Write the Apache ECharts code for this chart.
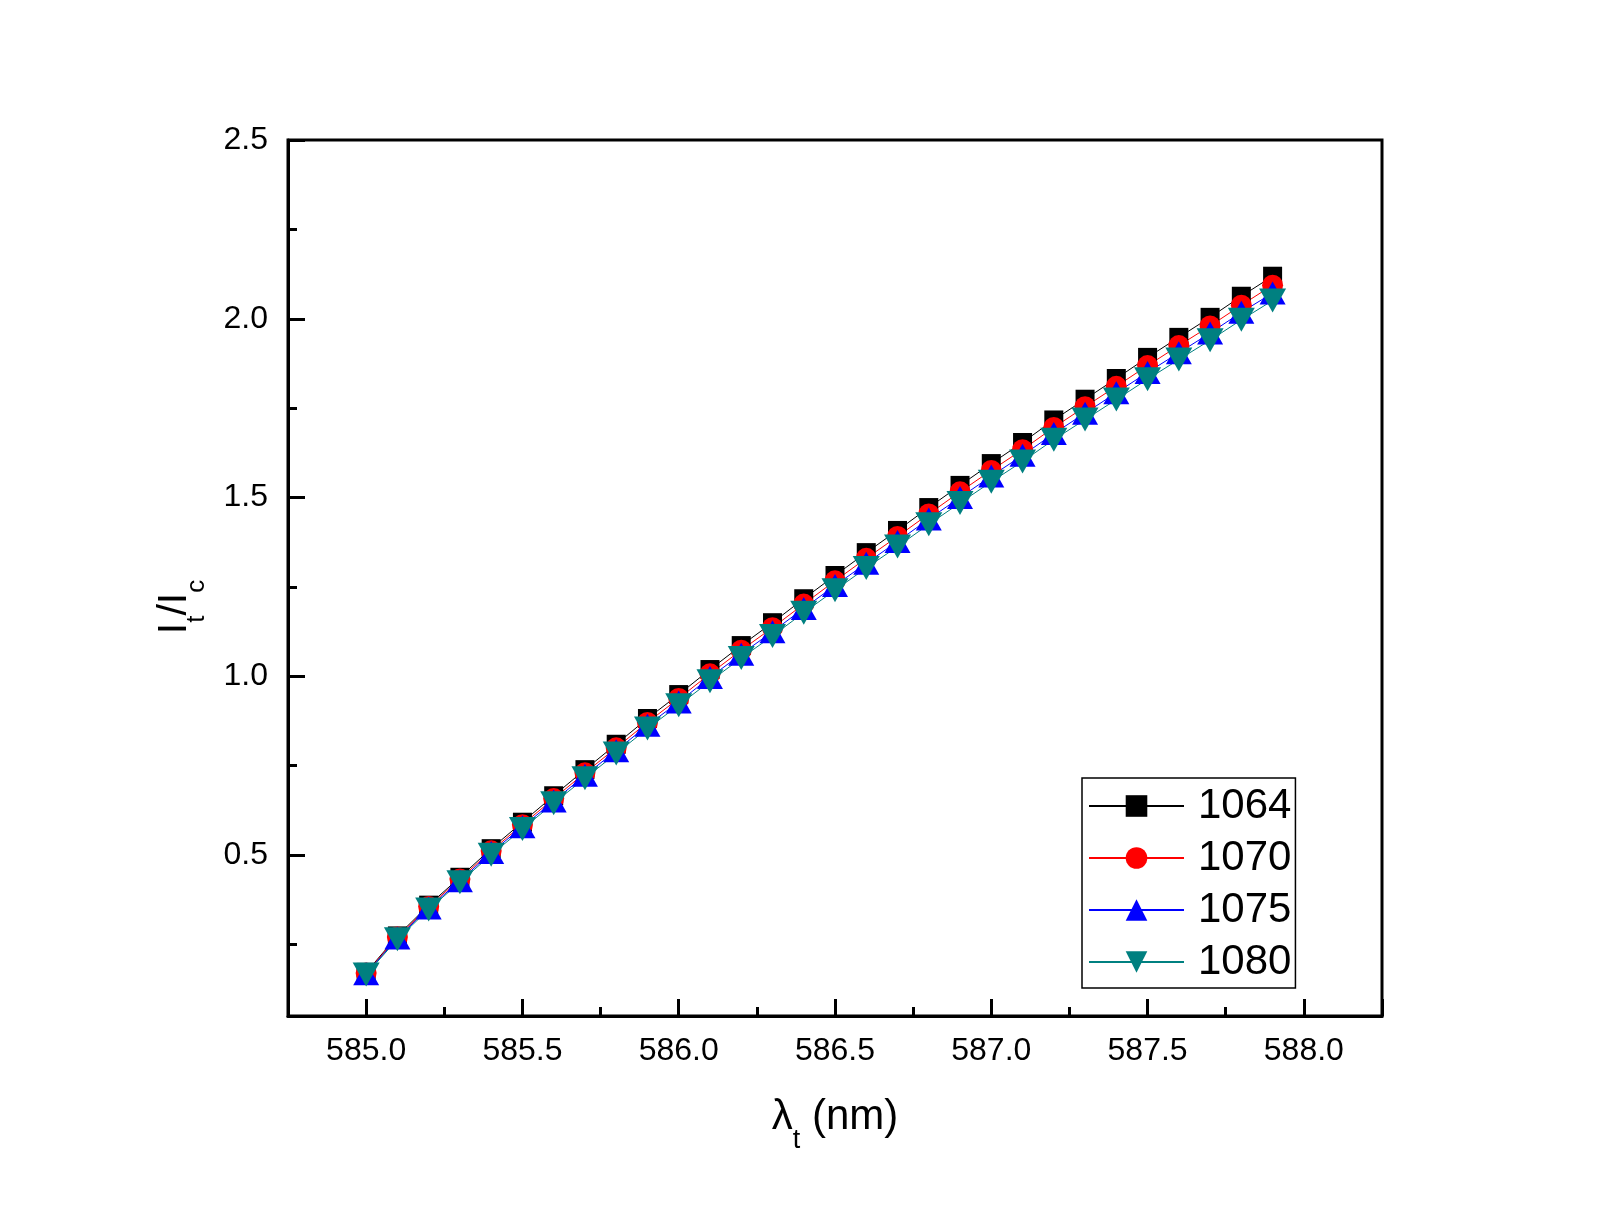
<!DOCTYPE html>
<html>
<head>
<meta charset="utf-8">
<title>It/Ic vs wavelength</title>
<script src="https://cdn.jsdelivr.net/npm/echarts@6.0.0/dist/echarts.min.js"></script>
<style>
    html, body { margin: 0; padding: 0; background: #fff; }
    #main { width: 1605px; height: 1218px; }
</style>
</head>
<body>
<div id="main"></div>
<script>
// wavelength of the tuned line, nm
var lambdaT = [585.0, 585.1, 585.2, 585.3, 585.4, 585.5, 585.6, 585.7, 585.8, 585.9,
    586.0, 586.1, 586.2, 586.3, 586.4, 586.5, 586.6, 586.7, 586.8, 586.9,
    587.0, 587.1, 587.2, 587.3, 587.4, 587.5, 587.6, 587.7, 587.8, 587.9];

var seriesNames = ['1064', '1070', '1075', '1080'];

var ratio1064 = [0.172, 0.274, 0.360, 0.438, 0.518, 0.592, 0.666, 0.739, 0.810, 0.882,
    0.949, 1.019, 1.086, 1.150, 1.217, 1.282, 1.346, 1.408, 1.472, 1.534,
    1.595, 1.654, 1.717, 1.775, 1.833, 1.892, 1.948, 2.004, 2.063, 2.119];
var ratio1070 = [0.170, 0.271, 0.356, 0.433, 0.512, 0.585, 0.658, 0.730, 0.800, 0.871,
    0.938, 1.007, 1.073, 1.136, 1.202, 1.267, 1.330, 1.391, 1.454, 1.516,
    1.576, 1.634, 1.696, 1.754, 1.811, 1.869, 1.925, 1.980, 2.038, 2.094];
var ratio1075 = [0.168, 0.268, 0.352, 0.428, 0.507, 0.579, 0.651, 0.723, 0.792, 0.863,
    0.928, 0.997, 1.062, 1.125, 1.190, 1.254, 1.316, 1.377, 1.440, 1.500,
    1.560, 1.618, 1.679, 1.736, 1.793, 1.850, 1.905, 1.960, 2.018, 2.072];
var ratio1080 = [0.166, 0.265, 0.348, 0.424, 0.501, 0.573, 0.645, 0.715, 0.784, 0.854,
    0.919, 0.986, 1.051, 1.113, 1.178, 1.241, 1.303, 1.363, 1.425, 1.485,
    1.544, 1.601, 1.662, 1.718, 1.774, 1.831, 1.886, 1.940, 1.997, 2.051];

var FONT = '"Liberation Sans", Arial, sans-serif';

function pairs(ys) {
    return lambdaT.map(function (x, i) { return [x, ys[i]]; });
}

// only label the half-unit ticks, skip the extent edges
function halfStep(v) {
    var d = v * 2;
    if (Math.abs(d - Math.round(d)) > 1e-6) return '';
    return v.toFixed(1);
}

function makeSeries(name, ys, color, symbol, size, rotate) {
    return {
        name: name,
        type: 'line',
        data: pairs(ys),
        symbol: symbol,
        symbolSize: size,
        symbolRotate: rotate || 0,
        lineStyle: { color: color, width: 1 },
        itemStyle: { color: color },
        emphasis: { disabled: true }
    };
}

var axisLine = { show: true, lineStyle: { color: '#000', width: 3 } };

var chart = echarts.init(document.getElementById('main'));

var option = {
    animation: false,
    backgroundColor: '#fff',
    grid: {
        left: 288, right: 223, top: 140, bottom: 202,
        show: true, borderColor: '#000', borderWidth: 3,
        outerBoundsMode: 'none'
    },
    legend: {
        orient: 'vertical',
        left: 1082, top: 778,
        backgroundColor: '#fff',
        borderColor: '#000', borderWidth: 1.5, borderRadius: 0,
        padding: [7, 4, 5, 6],
        itemWidth: 95, itemHeight: 27, itemGap: 10,
        selectedMode: false,
        textStyle: { fontFamily: FONT, fontSize: 42, color: '#000', lineHeight: 42, padding: [0, 0, 0, 9] },
        data: seriesNames
    },
    xAxis: {
        type: 'value',
        min: 584.75, max: 588.25, splitNumber: 7,
        name: '{m|λ}{s|t}{m| (nm)}',
        nameLocation: 'middle', nameGap: 80,
        nameTextStyle: {
            rich: {
                m: { fontFamily: FONT, fontSize: 42, color: '#000', lineHeight: 46, verticalAlign: 'top' },
                s: { fontFamily: FONT, fontSize: 27, color: '#000', lineHeight: 27, padding: [31, 0, 0, 0], verticalAlign: 'top' }
            }
        },
        axisLine: axisLine,
        axisTick: { inside: true, length: 17, lineStyle: { color: '#000', width: 3 } },
        minorTick: { show: true, splitNumber: 2, length: 9, lineStyle: { color: '#000', width: 3 } },
        splitLine: { show: false },
        axisLabel: { fontFamily: FONT, fontSize: 32, color: '#000', margin: 19, formatter: halfStep }
    },
    yAxis: {
        type: 'value',
        min: 0.05, max: 2.5, splitNumber: 5,
        name: '{m|I}{s|t}{m|/I}{s|c}',
        nameLocation: 'middle', nameGap: 90, nameRotate: 90,
        nameTextStyle: {
            padding: [0, 58, 0, 0],
            rich: {
                m: { fontFamily: FONT, fontSize: 41, color: '#000', lineHeight: 44, verticalAlign: 'top' },
                s: { fontFamily: FONT, fontSize: 26, color: '#000', lineHeight: 26, padding: [30, 0, 0, 0], verticalAlign: 'top' }
            }
        },
        axisLine: axisLine,
        axisTick: { inside: true, length: 17, lineStyle: { color: '#000', width: 3 } },
        minorTick: { show: true, splitNumber: 2, length: 9, lineStyle: { color: '#000', width: 3 } },
        splitLine: { show: false },
        axisLabel: { fontFamily: FONT, fontSize: 32, color: '#000', margin: 20, formatter: halfStep }
    },
    series: [
        makeSeries(seriesNames[0], ratio1064, '#000000', 'rect', 19),
        makeSeries(seriesNames[1], ratio1070, '#ff0000', 'circle', 21),
        makeSeries(seriesNames[2], ratio1075, '#0000ff', 'triangle', [26, 23]),
        makeSeries(seriesNames[3], ratio1080, '#008080', 'triangle', [27, 24], 180)
    ]
};

chart.setOption(option);
</script>
</body>
</html>
